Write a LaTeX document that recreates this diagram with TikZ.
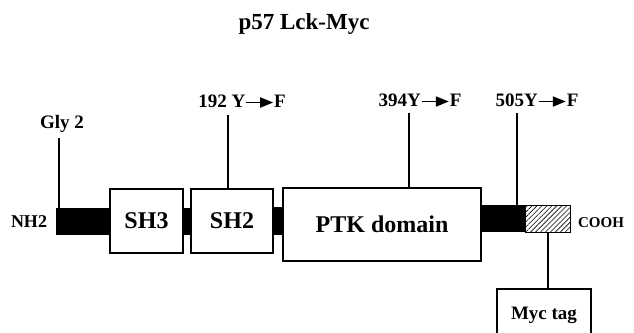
\documentclass[tikz,border=0pt]{standalone}
\usepackage{fontspec}
\setmainfont{Liberation Serif}
\usetikzlibrary{arrows.meta,patterns.meta}
\newcommand\fsz[1]{\fontsize{#1}{#1}\selectfont\bfseries}
% point mutation arrow (Y -> F)
\newcommand\mutarrow{\tikz[baseline=-4.5pt]\draw[line width=1.9pt,-{Triangle[length=13pt,width=10pt]}] (0pt,0pt) -- (27pt,0pt);}
\begin{document}
\begin{tikzpicture}[x=1pt,y=-1pt,
  box/.style={draw,line width=1.1pt,inner sep=0pt,outer sep=0pt,anchor=north west},
  link/.style={fill=black,inner sep=0pt,outer sep=0pt,anchor=north west},
  lbl/.style={anchor=base,inner sep=0pt},
  stem/.style={line width=1.4pt}]
\clip (0,0) rectangle (634,332);
% title
\node[lbl,font=\fsz{23}] (title) at (304,29) {p57 Lck-Myc};
% protein chain
\node[link,minimum width=54pt,minimum height=27pt] (nterm) at (56,208) {};
\node[link,minimum width=8pt,minimum height=27pt] (link1) at (183,208) {};
\node[link,minimum width=10pt,minimum height=28pt] (link2) at (273,207) {};
\node[link,minimum width=44pt,minimum height=27pt] (cterm) at (481,205) {};
\node[box,line width=0.9pt,minimum width=45pt,minimum height=27pt,
  pattern={Lines[angle=45,distance=3.5pt,line width=0.6pt]}] (tag) at (525,205) {};
\node[box,minimum width=73pt,minimum height=64pt,font=\fsz{24}] (sh3) at (110,189) {SH3};
\node[box,minimum width=82pt,minimum height=64pt,font=\fsz{24}] (sh2) at (191,189) {SH2};
\node[box,minimum width=198pt,minimum height=73pt,font=\fsz{24}] (ptk) at (283,188) {PTK domain};
% termini
\node[lbl,font=\fsz{18}] (nh2) at (29,227) {NH2};
\node[lbl,font=\fsz{15}] (cooh) at (601,227) {COOH};
% site labels
\node[lbl,font=\fsz{19}] (gly) at (62,128) {Gly 2};
\node[lbl,font=\fsz{19}] (m192) at (242,107) {192 Y\mutarrow F};
\node[lbl,font=\fsz{19}] (m394) at (420,106) {394Y\mutarrow F};
\node[lbl,font=\fsz{19}] (m505) at (537,106) {505Y\mutarrow F};
% epitope tag box
\node[box,anchor=north,minimum width=94pt,minimum height=52pt,font=\fsz{19}] (myc) at (544,289) {Myc tag};
% stems
\coordinate (s1) at (59,138);
\coordinate (s2) at (228,115);
\coordinate (s3) at (409,113);
\coordinate (s4) at (517,113);
\coordinate (s5) at (548,0);
\draw[stem] (s1) -- (s1 |- nterm.north);
\draw[stem] (s2) -- (s2 |- sh2.north);
\draw[stem] (s3) -- (s3 |- ptk.north);
\draw[stem] (s4) -- (s4 |- cterm.north);
\draw[stem] (s5 |- tag.south) -- (s5 |- myc.north);
\end{tikzpicture}
\end{document}
